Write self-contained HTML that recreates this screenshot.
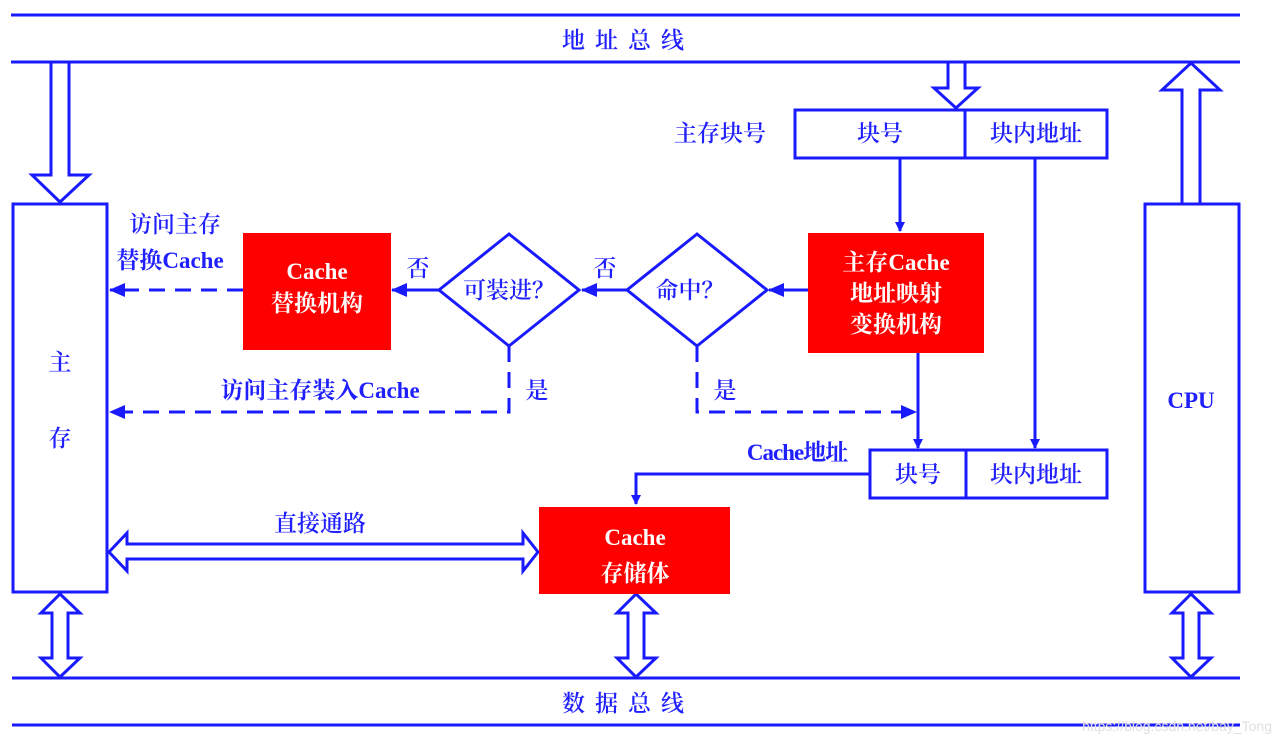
<!DOCTYPE html>
<html><head><meta charset="utf-8"><style>
html,body{margin:0;padding:0;background:#fff;}
svg{display:block;}
text{font-family:"Liberation Serif","Noto Serif CJK SC",serif;fill:#2020ff;font-size:23px;font-weight:600;}
.w{fill:#fff;font-weight:bold;}
.b{font-weight:bold;}
</style></head><body>
<svg width="1281" height="744" viewBox="0 0 1281 744" xmlns="http://www.w3.org/2000/svg">
<defs>
<marker id="ah" markerWidth="10" markerHeight="10" refX="9" refY="5" orient="auto" markerUnits="userSpaceOnUse">
<path d="M0,0 L10,5 L0,10 z" fill="#1a1aff"/></marker>
<marker id="ah2" markerWidth="16" markerHeight="14" refX="15" refY="7" orient="auto" markerUnits="userSpaceOnUse">
<path d="M0,0 L16,7 L0,14 z" fill="#1a1aff"/></marker>
</defs>
<g stroke="#1a1aff" stroke-width="3" fill="none">
<line x1="11" y1="15" x2="1240" y2="15"/>
<line x1="11" y1="62" x2="1240" y2="62"/>
<line x1="12" y1="678" x2="1240" y2="678"/>
<line x1="12" y1="725" x2="1240" y2="725"/>
<rect x="13" y="204" width="94" height="388" fill="#fff"/>
<rect x="1145" y="204" width="94" height="388" fill="#fff"/>
<polygon points="51,62 69,62 69,175 89,175 60,202 32,175 51,175" fill="#fff"/>
<polygon points="948,62 965,62 965,88 978,88 956,108 934,88 948,88" fill="#fff"/>
<polygon points="1182,204 1200,204 1200,90 1220,90 1191,63 1162,90 1182,90" fill="#fff"/>
<polygon points="60,594 80,613 68,613 68,658 80,658 60,677 41,658 52,658 52,613 41,613" fill="#fff"/>
<polygon points="636,594 656,613 644,613 644,658 656,658 636,677 617,658 628,658 628,613 617,613" fill="#fff"/>
<polygon points="1191,594 1211,613 1199,613 1199,658 1211,658 1191,677 1172,658 1183,658 1183,613 1172,613" fill="#fff"/>
<polygon points="109,552 127,533 127,544 523,544 523,533 538,552 523,571 523,559 127,559 127,571" fill="#fff"/>
<rect x="795" y="110" width="312" height="48" fill="#fff"/>
<line x1="965" y1="110" x2="965" y2="158"/>
<rect x="870" y="450" width="237" height="48" fill="#fff"/>
<line x1="966" y1="450" x2="966" y2="498"/>
<polygon points="509,234 579,290 509,346 439,290" fill="#fff"/>
<polygon points="697,234 767,290 697,346 627,290" fill="#fff"/>
<line x1="900" y1="158" x2="900" y2="231" marker-end="url(#ah)"/>
<line x1="1035" y1="158" x2="1035" y2="448" marker-end="url(#ah)"/>
<line x1="918" y1="353" x2="918" y2="448" marker-end="url(#ah)"/>
<line x1="808" y1="290" x2="769" y2="290" marker-end="url(#ah2)"/>
<line x1="627" y1="290" x2="582" y2="290" marker-end="url(#ah2)"/>
<line x1="439" y1="290" x2="392" y2="290" marker-end="url(#ah2)"/>
<polyline points="870,474 636,474 636,504" marker-end="url(#ah)"/>
<g stroke-dasharray="16,10">
<line x1="243" y1="290" x2="110" y2="290" marker-end="url(#ah2)"/>
<polyline points="509,346 509,412 110,412" marker-end="url(#ah2)"/>
<polyline points="697,346 697,412 916,412" marker-end="url(#ah2)"/>
</g>
</g>
<rect x="243" y="233" width="148" height="117" fill="#ff0000"/>
<rect x="808" y="233" width="176" height="120" fill="#ff0000"/>
<rect x="539" y="507" width="191" height="87" fill="#ff0000"/>
<text x="628" y="48" text-anchor="middle" letter-spacing="10">地址总线</text>
<text x="628" y="711" text-anchor="middle" letter-spacing="10">数据总线</text>
<text x="60" y="370" text-anchor="middle" font-size="26">主</text>
<text x="60" y="446" text-anchor="middle" font-size="26">存</text>
<text x="1191" y="408" text-anchor="middle" class="b" font-size="26">CPU</text>
<text x="720" y="141" text-anchor="middle">主存块号</text>
<text x="880" y="141" text-anchor="middle">块号</text>
<text x="1036" y="141" text-anchor="middle">块内地址</text>
<text x="797" y="460" text-anchor="middle" class="b" letter-spacing="-1">Cache地址</text>
<text x="918" y="482" text-anchor="middle">块号</text>
<text x="1036" y="482" text-anchor="middle">块内地址</text>
<text x="175" y="232" text-anchor="middle">访问主存</text>
<text x="170" y="268" text-anchor="middle" class="b">替换Cache</text>
<text x="320" y="398" text-anchor="middle" class="b">访问主存装入Cache</text>
<text x="418" y="276" text-anchor="middle">否</text>
<text x="605" y="276" text-anchor="middle">否</text>
<text x="537" y="398" text-anchor="middle">是</text>
<text x="725" y="398" text-anchor="middle">是</text>
<text x="509" y="298" text-anchor="middle">可装进？</text>
<text x="690" y="298" text-anchor="middle">命中？</text>
<text x="317" y="279" text-anchor="middle" class="w">Cache</text>
<text x="317" y="311" text-anchor="middle" class="w">替换机构</text>
<text x="896" y="270" text-anchor="middle" class="w">主存Cache</text>
<text x="896" y="301" text-anchor="middle" class="w">地址映射</text>
<text x="896" y="332" text-anchor="middle" class="w">变换机构</text>
<text x="635" y="545" text-anchor="middle" class="w" font-size="25">Cache</text>
<text x="635" y="581" text-anchor="middle" class="w" font-size="25">存储体</text>
<text x="320" y="531" text-anchor="middle">直接通路</text>
<text x="1272" y="731" text-anchor="end" style="fill:#e0e0e0;font-family:'Liberation Sans',sans-serif;font-size:14px;font-weight:normal">https://blog.csdn.net/bay_Tong</text>
</svg>
</body></html>
